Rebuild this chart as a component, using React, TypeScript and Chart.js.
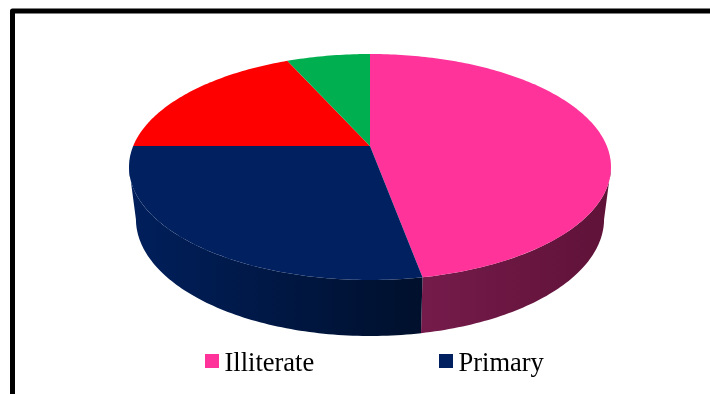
import React, { useEffect, useRef } from "react";
import { Chart, registerables } from "chart.js";

Chart.register(...registerables);

// Slices run clockwise from twelve o'clock. Only the first two names appear in the legend.
const categories = ["Illiterate", "Primary", "", ""];
const shares = [47.1, 27.9, 18.3, 6.7];
const faceColors = ["#FF3399", "#002060", "#FF0000", "#00B050"];
// Rim shading per slice, as [left, right] of a horizontal gradient.
const rimColors = [
  ["#751B4B", "#5F1238"],
  ["#001F5C", "#00102C"],
  ["#800000", "#800000"],
  ["#005828", "#005828"],
];

const WIDTH = 710;
const HEIGHT = 394;
const TILT = -0.1858;
// Angle at which the disc's outline turns away from the viewer.
const SILHOUETTE = 0.19;

// Perspective plane: maps a point on the unit disc to canvas pixels.
type Plane = { x: number; y: number; kx: number; ky: number };
const TOP_FACE: Plane = { x: 370, y: 146, kx: 236.8, ky: 109.1 };
const BASE_FACE: Plane = { x: 370, y: 197.2, kx: 230, ky: 113 };

function project(plane: Plane, angle: number) {
  const u = Math.cos(angle);
  const v = Math.sin(angle);
  const w = 1 + TILT * v;
  return { x: plane.x + (plane.kx * u) / w, y: plane.y + (plane.ky * v) / w };
}

function arcPoints(plane: Plane, start: number, end: number) {
  const steps = Math.max(2, Math.ceil(((end - start) * 180) / Math.PI));
  const points = [];
  for (let i = 0; i <= steps; i++) {
    points.push(project(plane, start + ((end - start) * i) / steps));
  }
  return points;
}

function tracePoints(ctx: CanvasRenderingContext2D, points: { x: number; y: number }[], move: boolean) {
  points.forEach((p, i) => {
    if (i === 0 && move) ctx.moveTo(p.x, p.y);
    else ctx.lineTo(p.x, p.y);
  });
}

// Paints the pie as a tilted disc, using the angles Chart.js computed for each arc.
const tiltedPie = {
  id: "tiltedPie",
  beforeDraw(chart: Chart) {
    const { ctx } = chart;
    ctx.save();
    ctx.strokeStyle = "#000000";
    ctx.lineWidth = 5;
    ctx.lineJoin = "round";
    ctx.strokeRect(12.5, 11, 760, 440);
    ctx.restore();
  },
  beforeDatasetDraw(chart: Chart) {
    const { ctx } = chart;
    const arcs = chart.getDatasetMeta(0).data as any[];
    ctx.save();

    // Rim: only the part of each slice facing the viewer.
    arcs.forEach((arc, i) => {
      const start = Math.max(arc.startAngle, SILHOUETTE);
      const end = Math.min(arc.endAngle, Math.PI - SILHOUETTE);
      if (end <= start) return;
      const top = arcPoints(TOP_FACE, start, end);
      const base = arcPoints(BASE_FACE, start, end).reverse();
      const xs = top.concat(base).map((p) => p.x);
      const gradient = ctx.createLinearGradient(Math.min(...xs), 0, Math.max(...xs), 0);
      const [left, right] = rimColors[i];
      gradient.addColorStop(0, left);
      gradient.addColorStop(1, right);
      ctx.fillStyle = gradient;
      ctx.beginPath();
      tracePoints(ctx, top, true);
      tracePoints(ctx, base, false);
      ctx.closePath();
      ctx.fill();
    });

    // Upper face.
    arcs.forEach((arc, i) => {
      ctx.fillStyle = faceColors[i];
      ctx.beginPath();
      ctx.moveTo(TOP_FACE.x, TOP_FACE.y);
      tracePoints(ctx, arcPoints(TOP_FACE, arc.startAngle, arc.endAngle), false);
      ctx.closePath();
      ctx.fill();
    });

    ctx.restore();
    return false;
  },
  afterDraw(chart: Chart) {
    const { ctx } = chart;
    const slots = [205, 439];
    ctx.save();
    ctx.font = '26.5px "Liberation Serif"';
    ctx.textBaseline = "alphabetic";
    categories
      .map((name, i) => ({ name, color: faceColors[i] }))
      .filter((entry) => entry.name)
      .forEach((entry, i) => {
        ctx.fillStyle = entry.color;
        ctx.fillRect(slots[i], 354, 14, 14);
        ctx.fillStyle = "#000000";
        ctx.fillText(entry.name, slots[i] + 19.5, 371);
      });
    ctx.restore();
  },
};

export default function App() {
  const canvasRef = useRef<HTMLCanvasElement>(null);

  useEffect(() => {
    const chart = new Chart(canvasRef.current!, {
      type: "pie",
      data: {
        labels: categories,
        datasets: [{ data: shares, backgroundColor: faceColors, borderWidth: 0 }],
      },
      options: {
        animation: false,
        responsive: false,
        plugins: { legend: { display: false }, tooltip: { enabled: false } },
      },
      plugins: [tiltedPie],
    } as any);
    return () => chart.destroy();
  }, []);

  return (
    <div style={{ position: "fixed", left: 0, top: 0, width: WIDTH, height: HEIGHT, background: "#ffffff" }}>
      <canvas ref={canvasRef} width={WIDTH} height={HEIGHT} style={{ display: "block" }} />
    </div>
  );
}
